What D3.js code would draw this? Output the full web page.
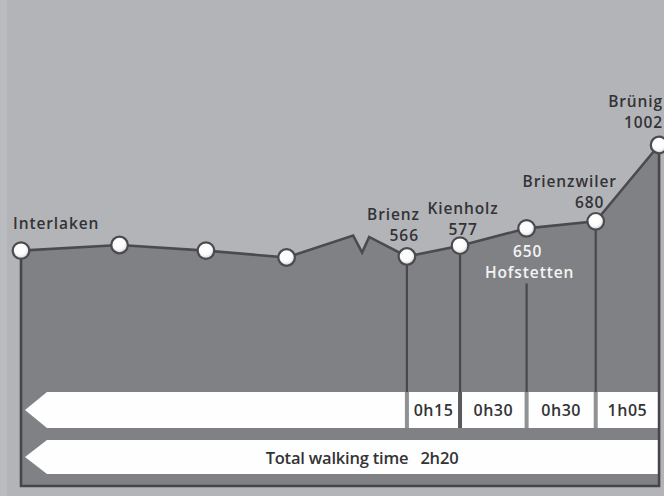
<!DOCTYPE html>
<html><head><meta charset="utf-8">
<script src="https://cdn.jsdelivr.net/npm/d3@7"></script>
<style>html,body{margin:0;padding:0;background:#b3b4b8;overflow:hidden}</style>
</head><body><svg id="c" width="664" height="496"></svg>
<script>
// ---- data ----
// profile points: schematic distance along the route (0..100) and elevation (m)
const profileDist = [0, 15.4, 28.9, 41.5, 51.9, 53.3, 54.4, 60.3, 68.6, 79.0, 89.8, 99.7];
const profileElev = [572, 580, 572, 565, 620, 570, 614, 566, 577, 650, 680, 1002];
// waypoints drawn as circles
const markerDist = [0, 15.4, 28.9, 41.5, 60.3, 68.6, 79.0, 89.8, 99.7];
const markerElev = [572, 580, 572, 565, 566, 577, 650, 680, 1002];
// named stations
const stationNames = ["Interlaken", "Brienz", "Kienholz", "Hofstetten", "Brienzwiler", "Brünig"];
const stationDist = [0, 60.3, 68.6, 79.0, 89.8, 99.7];
const stationElev = [572, 566, 577, 650, 680, 1002];
const stationElevLabels = ["", "566", "577", "650", "680", "1002"];
// walking time of each leg (Brienz -> Brünig)
const legTimes = ["0h15", "0h30", "0h30", "1h05"];
const totalLabel = "Total walking time";
const totalTime = "2h20";

// ---- drawing ----
const W = 664, H = 496;
const svg = d3.select("#c");
const x = d3.scaleLinear().domain([0, 100]).range([21, 661]);
const y = d3.scaleLinear().domain([566, 577, 1002]).range([256.5, 245.7, 145]);

const FONT = "'Open Sans', 'Noto Sans', sans-serif";
const base = 486;
const b1 = [392, 428], b2 = [440, 474];
const tipX = 25, notch = 22;
const rightEnd = x(stationDist[stationDist.length - 1]);

const defs = svg.append("defs");
const g = defs.append("radialGradient").attr("id", "dot").attr("cx", "45%").attr("cy", "40%").attr("r", "60%");
g.append("stop").attr("offset", "0%").attr("stop-color", "#ffffff");
g.append("stop").attr("offset", "60%").attr("stop-color", "#fbfbfb");
g.append("stop").attr("offset", "100%").attr("stop-color", "#cfcfd2");

svg.append("rect").attr("width", W).attr("height", H).attr("fill", "#b3b4b8");
svg.append("rect").attr("width", 7).attr("height", H).attr("fill", "#bbbcbf");

const pts = profileDist.map((d, i) => [x(d), y(profileElev[i])]);
const last = pts[pts.length - 1];

// filled area
const area = pts.concat([[last[0], base], [pts[0][0], base]]);
svg.append("path").attr("d", d3.line()(area) + "Z").attr("fill", "#808185");

// bands
function band(yy) {
  const m = (yy[0] + yy[1]) / 2;
  return d3.line()([[tipX, m], [tipX + notch, yy[0]], [rightEnd - 1, yy[0]], [rightEnd - 1, yy[1]], [tipX + notch, yy[1]]]) + "Z";
}
svg.append("path").attr("d", band(b1)).attr("fill", "#fefefe");
svg.append("path").attr("d", band(b2)).attr("fill", "#fefefe");

// drop lines from stations
const dropIdx = [1, 2, 3, 4];
dropIdx.forEach(i => {
  const sx = x(stationDist[i]);
  const top = i === 3 ? y(stationElev[i]) + 55 : y(stationElev[i]);
  svg.append("line").attr("x1", sx).attr("x2", sx).attr("y1", top).attr("y2", b1[0])
    .attr("stroke", "#48484c").attr("stroke-width", 2.2);
  svg.append("rect").attr("x", sx - 2).attr("y", b1[0]).attr("width", 4).attr("height", b1[1] - b1[0])
    .attr("fill", i === 2 ? "#5a5a5e" : "#909195");
});

// outline: top profile + frame
svg.append("path").attr("d", d3.line()(pts)).attr("fill", "none")
  .attr("stroke", "#4a4a4f").attr("stroke-width", 2.6).attr("stroke-linejoin", "miter");
svg.append("path").attr("d", d3.line()([pts[0], [pts[0][0], base], [last[0], base], last]))
  .attr("fill", "none").attr("stroke", "#46464a").attr("stroke-width", 2.6);

// markers
svg.selectAll("circle.m").data(markerDist).join("circle")
  .attr("cx", d => x(d)).attr("cy", (d, i) => y(markerElev[i])).attr("r", 8.3)
  .attr("fill", "url(#dot)").attr("stroke", "#4a4a4f").attr("stroke-width", 2.2);

// station labels (n/v = baseline offsets of name / elevation line)
const lab = [
  {a: "start", dx: -8, n: -22},
  {a: "end", dx: 13, n: -37, v: -16, vdx: 12},
  {a: "middle", dx: 3, n: -32, v: -11, vdx: 3},
  {a: "middle", dx: 3, n: 50, v: 29, vdx: 1, white: true},
  {a: "middle", dx: -26, n: -34, v: -13, vdx: -6},
  {a: "end", dx: 4, n: -38, v: -17, vdx: 4}
];
stationNames.forEach((name, i) => {
  const sx = x(stationDist[i]), sy = y(stationElev[i]), L = lab[i];
  const col = L.white ? "#f4f4f4" : "#333336";
  const lines = [{s: name, yy: sy + L.n, xx: sx + L.dx}];
  if (stationElevLabels[i]) lines.push({s: stationElevLabels[i], yy: sy + L.v, xx: sx + L.vdx});
  lines.forEach(l => svg.append("text").attr("x", l.xx).attr("y", l.yy).attr("text-anchor", L.a)
    .attr("font-family", FONT).attr("font-weight", 600).attr("font-size", 15.5)
    .attr("letter-spacing", 0.9).attr("fill", col).text(l.s));
});

// leg times
legTimes.forEach((t, i) => {
  const cx = (x(stationDist[i + 1]) + x(stationDist[i + 2])) / 2;
  svg.append("text").attr("x", cx).attr("y", 416).attr("text-anchor", "middle")
    .attr("font-family", FONT).attr("font-weight", 600).attr("font-size", 16)
    .attr("letter-spacing", 0.5).attr("fill", "#333336").text(t);
});

// total
const tt = svg.append("text").attr("x", 362).attr("y", 464).attr("text-anchor", "middle")
  .attr("font-family", FONT).attr("font-weight", 600).attr("font-size", 16.5)
  .attr("letter-spacing", -0.2).attr("fill", "#333336");
tt.append("tspan").text(totalLabel);
tt.append("tspan").attr("dx", 12).text(totalTime);
</script></body></html>
